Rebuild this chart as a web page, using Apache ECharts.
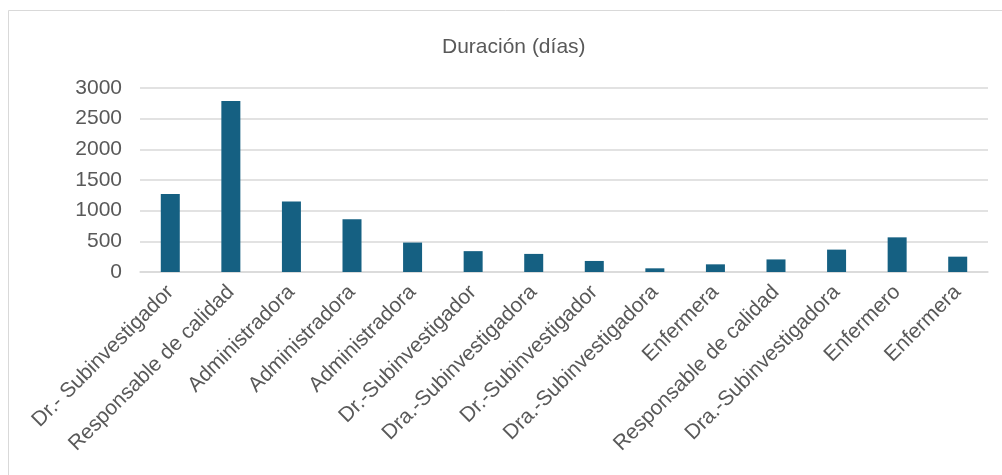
<!DOCTYPE html>
<html>
<head>
<meta charset="utf-8">
<style>
  html, body { margin: 0; padding: 0; background: #fff; }
  #chart { width: 1002px; height: 475px; }
</style>
<script src="https://cdn.jsdelivr.net/npm/echarts@6/dist/echarts.min.js"></script>
</head>
<body>
<div id="chart"></div>
<script>
// Roles, in the order they are listed on the axis
const categories = [
  'Dr.- Subinvestigador',
  'Responsable de calidad',
  'Administradora',
  'Administradora',
  'Administradora',
  'Dr.-Subinvestigador',
  'Dra.-Subinvestigadora',
  'Dr.-Subinvestigador',
  'Dra.-Subinvestigadora',
  'Enfermera',
  'Responsable de calidad',
  'Dra.-Subinvestigadora',
  'Enfermero',
  'Enfermera'
];

// Duration in days for each role
const duracion = [1270, 2790, 1150, 860, 480, 340, 295, 180, 60, 125, 205, 365, 565, 250];

const yTicks = { min: 0, max: 3000, interval: 500 };

const chart = echarts.init(document.getElementById('chart'), null, { renderer: 'canvas' });

const fontFamily = '"Liberation Sans", Arial, Helvetica, sans-serif';
const textColor = '#595959';

chart.setOption({
  animation: false,
  backgroundColor: '#ffffff',
  title: {
    text: 'Duración (días)',
    left: 437,
    top: 32,
    textStyle: { fontFamily, fontSize: 21, fontWeight: 'normal', color: textColor }
  },
  graphic: [{
    type: 'rect',
    shape: { x: 8.5, y: 10.5, width: 1010, height: 500 },
    style: { fill: 'none', stroke: '#d9d9d9', lineWidth: 1 },
    silent: true
  }],
  grid: { left: 140, right: 14, top: 88, bottom: 203, containLabel: false },
  xAxis: {
    type: 'category',
    data: categories,
    axisLine: { lineStyle: { color: '#d9d9d9', width: 1.5 } },
    axisTick: { show: false },
    axisLabel: {
      interval: 0,
      rotate: 45,
      margin: 17,
      fontFamily,
      fontSize: 21,
      color: textColor
    }
  },
  yAxis: {
    type: 'value',
    min: yTicks.min,
    max: yTicks.max,
    interval: yTicks.interval,
    axisLine: { show: false },
    axisTick: { show: false },
    splitLine: { lineStyle: { color: '#d9d9d9', width: 1.5 } },
    axisLabel: {
      fontFamily,
      fontSize: 21,
      color: textColor,
      margin: 18,
      formatter: (v) => String(v)
    }
  },
  series: [{
    type: 'bar',
    data: duracion,
    barWidth: 19,
    itemStyle: { color: '#156082' }
  }]
});
</script>
</body>
</html>
